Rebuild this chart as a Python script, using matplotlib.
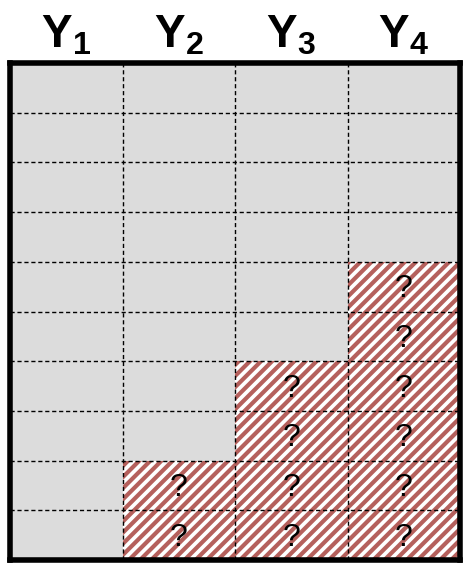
import matplotlib
matplotlib.use("Agg")
import matplotlib.pyplot as plt
from matplotlib.patches import Rectangle

columns = ["1", "2", "3", "4"]
n_rows = 10
missing_counts = [0, 2, 4, 6]  # bottom cells unknown per column

plt.rcParams['hatch.linewidth'] = 3.0
plt.rcParams['mathtext.fontset'] = 'custom'
plt.rcParams['mathtext.bf'] = 'Liberation Sans:bold'
plt.rcParams['mathtext.rm'] = 'Liberation Sans:bold'

fig = plt.figure(figsize=(4.69, 5.76), dpi=100)
ax = fig.add_axes([10/469, 16/576, 450/469, 497/576])
ax.set_xlim(0, len(columns))
ax.set_ylim(0, n_rows)

for c, m in enumerate(missing_counts):
    for r in range(n_rows):
        if r < m:
            ax.add_patch(Rectangle((c, r), 1, 1, facecolor='white', hatch='///',
                                   edgecolor='#b5605c', lw=0))
            ax.text(c + 0.5, r + 0.45, '?', ha='center', va='center', fontsize=23,
                    family='Liberation Sans')
        else:
            ax.add_patch(Rectangle((c, r), 1, 1, facecolor='#dcdcdc', edgecolor='none'))

for c in range(1, len(columns)):
    ax.axvline(c, color='black', ls=(0, (3, 2)), lw=1)
for r in range(1, n_rows):
    ax.axhline(r, color='black', ls=(0, (3, 2)), lw=1)

for s in ax.spines.values():
    s.set_linewidth(4)
    s.set_zorder(5)
ax.set_xticks([]); ax.set_yticks([])

for c, lab in enumerate(columns):
    ax.text(c + 0.5, n_rows + 0.12, r'$\mathrm{Y}_{\mathrm{%s}}$' % lab, ha='center', va='bottom',
            fontsize=33, transform=ax.transData, clip_on=False)

fig.savefig("out.png", dpi=100)
